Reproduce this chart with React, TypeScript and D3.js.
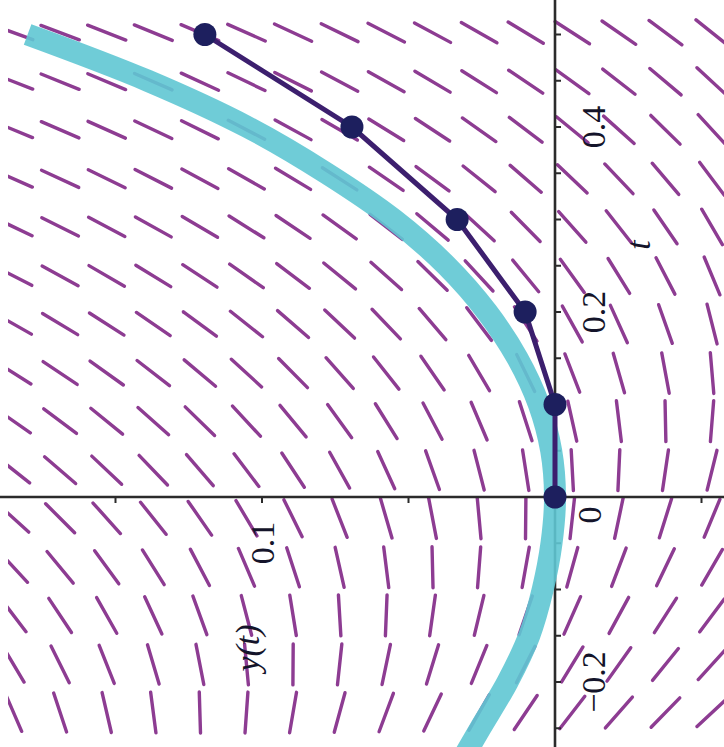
import { useEffect, useRef } from "react";
import * as d3 from "d3";

// Euler steps (t, y)
const eulerT = [0, 0.1, 0.2, 0.3, 0.4, 0.5];
const eulerY = [0, 0, 0.0102, 0.0334, 0.0693, 0.1195];

// exact solution
const exactT = [-0.28, -0.25, -0.2, -0.15, -0.1, -0.05, 0, 0.05, 0.1, 0.15, 0.2, 0.25, 0.3, 0.35, 0.4, 0.45, 0.5];
const exactY = [0.031, 0.0255, 0.0162, 0.0088, 0.0042, 0.0012, 0, 0.0013, 0.0055, 0.0128, 0.0232, 0.037, 0.055, 0.078, 0.105, 0.139, 0.18];

// direction field grid
const fieldT = [0.502, 0.449, 0.397, 0.344, 0.292, 0.239, 0.187, 0.134, 0.082, 0.029, -0.023, -0.076, -0.128, -0.181, -0.233];
const fieldY = [0.1848, 0.1689, 0.153, 0.1371, 0.1212, 0.1053, 0.0894, 0.0735, 0.0576, 0.0418, 0.0259, 0.01, -0.0059, -0.0218, -0.0377, -0.0536];

// ticks and labels
const tTicks = [-0.25, -0.2, -0.15, -0.1, -0.05, 0.05, 0.1, 0.15, 0.2, 0.25, 0.3, 0.35, 0.4, 0.45, 0.5];
const yTicks = [-0.05, 0.05, 0.1, 0.15];
const tLabels = [
  { v: 0.4, text: "0.4" },
  { v: 0.2, text: "0.2" },
  { v: -0.2, text: "\u22120.2" },
];

// slope of the ODE  y' = t + 2y
const slope = (t: number, y: number) => t + 2 * y;

const W = 724;
const H = 747;

const App = () => {
  const ref = useRef<SVGSVGElement>(null);

  useEffect(() => {
    const svg = d3.select(ref.current);
    svg.selectAll("*").remove();

    // the plot is turned a quarter: t runs upward, y runs to the left
    const x = d3.scaleLinear().domain([0, 0.1]).range([555, 262]);
    const y = d3.scaleLinear().domain([0, 0.4]).range([497, 127]);
    const kx = x(1) - x(0);
    const ky = y(1) - y(0);

    svg.append("defs").append("clipPath").attr("id", "clip")
      .append("rect").attr("x", 8).attr("y", 0).attr("width", W - 8).attr("height", H);

    // direction field
    const cells: [number, number][] = [];
    fieldT.forEach(t => fieldY.forEach(v => cells.push([t, v])));
    const half = 20.5;
    svg.append("g").attr("clip-path", "url(#clip)")
      .selectAll("line").data(cells).enter().append("line")
      .each(function ([t, v]) {
        const m = slope(t, v);
        const dx = kx * m, dy = ky;
        const len = Math.hypot(dx, dy);
        const ux = (dx / len) * half, uy = (dy / len) * half;
        d3.select(this)
          .attr("x1", x(v) - ux).attr("y1", y(t) - uy)
          .attr("x2", x(v) + ux).attr("y2", y(t) + uy);
      })
      .attr("stroke", "#8d3c92")
      .attr("stroke-width", 3.4)
      .attr("stroke-linecap", "round");

    // axes
    const axes = svg.append("g").attr("stroke", "#2b2b2b").attr("stroke-width", 2.6);
    axes.append("line").attr("x1", x(0)).attr("x2", x(0)).attr("y1", 0).attr("y2", H);
    axes.append("line").attr("x1", 0).attr("x2", W).attr("y1", y(0)).attr("y2", y(0));
    axes.selectAll(".tt").data(tTicks).enter().append("line")
      .attr("x1", x(0)).attr("x2", x(0) + 6).attr("y1", d => y(d)).attr("y2", d => y(d))
      .attr("stroke-width", 2);
    axes.selectAll(".yt").data(yTicks).enter().append("line")
      .attr("x1", d => x(d)).attr("x2", d => x(d)).attr("y1", y(0)).attr("y2", y(0) + 6)
      .attr("stroke-width", 2);

    // exact solution
    const exact = exactT.map((t, i) => [t, exactY[i]] as [number, number]);
    svg.append("path")
      .datum(exact)
      .attr("d", d3.line<[number, number]>().x(d => x(d[1])).y(d => y(d[0])).curve(d3.curveCatmullRom))
      .attr("fill", "none")
      .attr("stroke", "#5fc6d3")
      .attr("stroke-width", 22)
      .attr("stroke-opacity", 0.9);

    // Euler approximation
    const euler = eulerT.map((t, i) => [t, eulerY[i]] as [number, number]);
    svg.append("path")
      .datum(euler)
      .attr("d", d3.line<[number, number]>().x(d => x(d[1])).y(d => y(d[0])))
      .attr("fill", "none")
      .attr("stroke", "#3c1f6e")
      .attr("stroke-width", 5);
    svg.selectAll(".pt").data(euler).enter().append("circle")
      .attr("cx", d => x(d[1])).attr("cy", d => y(d[0])).attr("r", 11.5)
      .attr("fill", "#1d1f5e");

    // labels, written upward
    const font = "'Liberation Serif', 'DejaVu Serif', serif";
    const label = (px: number, py: number, text: string, italic = false, size = 34) =>
      svg.append("text")
        .attr("transform", `translate(${px},${py}) rotate(-90)`)
        .attr("text-anchor", "middle")
        .attr("dominant-baseline", "central")
        .attr("font-family", font)
        .attr("font-size", size)
        .attr("font-style", italic ? "italic" : "normal")
        .attr("fill", "#14142a")
        .text(text);

    tLabels.forEach(d => label(593, y(d.v), d.text));
    label(589, 515, "0");
    label(262, 543, "0.1");
    label(638, 245, "t", true);
    label(247, 648, "y(t)", true);
  }, []);

  return (
    <svg
      ref={ref}
      width={W}
      height={H}
      style={{ position: "absolute", left: 0, top: 0, background: "#fff" }}
    />
  );
};

export default App;
